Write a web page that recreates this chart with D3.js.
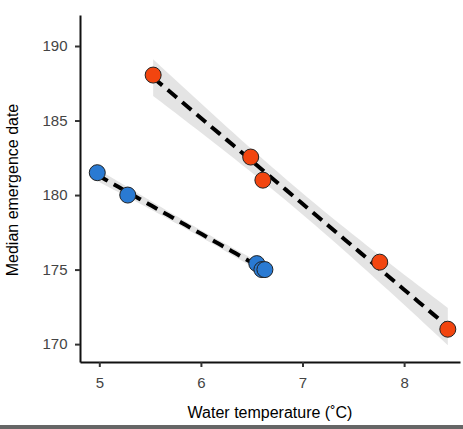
<!DOCTYPE html><html><head><meta charset="utf-8"><script src="https://cdn.jsdelivr.net/npm/d3@7"></script>
<style>body{margin:0;background:#fff}</style></head><body><svg id="c" width="463" height="429"></svg><script>
const xTicks=[5,6,7,8], yTicks=[170,175,180,185,190];
const blueX=[4.98,5.28,6.55,6.6,6.63], blueY=[181.5,180,175.4,175.0,175.0];
const orangeX=[5.53,6.49,6.61,7.76,8.43], orangeY=[188.05,182.55,181.0,175.5,171.0];
const tVals={3:3.182};
const svg=d3.select("#c");
const x=d3.scaleLinear().domain([4.81,8.55]).range([80,460]);
const y=d3.scaleLinear().domain([168.8,192.08]).range([362,15]);
function fit(xs,ys){const n=xs.length,mx=d3.mean(xs),my=d3.mean(ys);
 const sxx=d3.sum(xs,v=>(v-mx)**2),sxy=d3.sum(xs.map((v,i)=>(v-mx)*(ys[i]-my)));
 const b=sxy/sxx,a=my-b*mx;const s=Math.sqrt(d3.sum(xs.map((v,i)=>(ys[i]-a-b*v)**2))/(n-2));
 const t=tVals[n-2];const e=d3.extent(xs);const pts=d3.range(0,41).map(k=>e[0]+(e[1]-e[0])*k/40);
 return pts.map(p=>{const f=a+b*p,h=t*s*Math.sqrt(1/n+(p-mx)**2/sxx);return {x:p,y:f,lo:f-h,hi:f+h};});}
const groups=[{xs:orangeX,ys:orangeY,c:"#f2450f"},{xs:blueX,ys:blueY,c:"#2a7ad2"}];
groups.forEach(g=>{const f=fit(g.xs,g.ys);
 svg.append("path").attr("d",d3.area().x(d=>x(d.x)).y0(d=>y(d.lo)).y1(d=>y(d.hi))(f)).attr("fill","#e4e4e4");
 g.f=f;});
groups.forEach(g=>{svg.append("path").attr("d",d3.line().x(d=>x(d.x)).y(d=>y(d.y))(g.f)).attr("fill","none").attr("stroke","#000").attr("stroke-width",4).attr("stroke-dasharray","12,7");});
groups.forEach(g=>{svg.selectAll(null).data(g.xs.map((v,i)=>[v,g.ys[i]])).enter().append("circle").attr("cx",d=>x(d[0])).attr("cy",d=>y(d[1])).attr("r",8).attr("fill",g.c).attr("stroke","#222").attr("stroke-width",1);});
const fx=svg.append("g").attr("transform","translate(0,362)").call(d3.axisBottom(x).tickValues(xTicks).tickFormat(d3.format("d")).tickSize(5).tickSizeOuter(0));
const fy=svg.append("g").attr("transform","translate(80,0)").call(d3.axisLeft(y).tickValues(yTicks).tickFormat(d3.format("d")).tickSize(5).tickSizeOuter(0));
[fx,fy].forEach(a=>{a.select(".domain").attr("stroke","#111").attr("stroke-width",2);a.selectAll(".tick line").attr("stroke","#333").attr("stroke-width",2);a.selectAll("text").attr("font-family","Liberation Sans, Arial, sans-serif").attr("font-size",15).attr("fill","#444");});
fx.selectAll("text").attr("dy","1.2em");fy.selectAll("text").attr("dx","-0.3em");
svg.append("text").attr("x",270).attr("y",418).attr("text-anchor","middle").attr("font-family","Liberation Sans, Arial, sans-serif").attr("font-size",16).text("Water temperature (˚C)");
svg.append("text").attr("transform","translate(18,190) rotate(-90)").attr("text-anchor","middle").attr("font-family","Liberation Sans, Arial, sans-serif").attr("font-size",16).text("Median emergence date");
svg.append("rect").attr("x",0).attr("y",425).attr("width",463).attr("height",4).attr("fill","#666");
</script></body></html>
